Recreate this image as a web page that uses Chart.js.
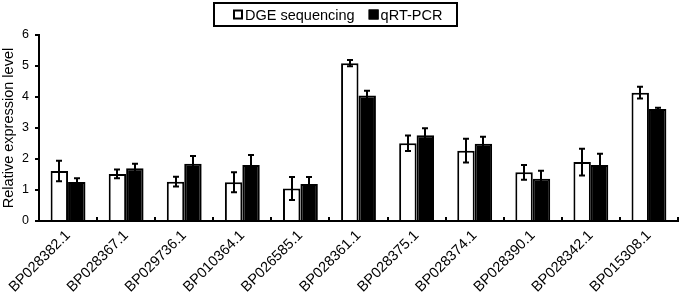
<!DOCTYPE html>
<html>
<head>
<meta charset="utf-8">
<script src="https://cdn.jsdelivr.net/npm/chart.js@4"></script>
<style>
html,body{margin:0;padding:0;background:#fff;}
#wrap{width:680px;height:293px;position:relative;}
</style>
</head>
<body>
<div id="wrap"><canvas id="c" width="680" height="293"></canvas></div>
<script>
const categories = ['BP028382.1','BP028367.1','BP029736.1','BP010364.1','BP026585.1','BP028361.1','BP028375.1','BP028374.1','BP028390.1','BP028342.1','BP015308.1'];
const dgeValues = [1.61,1.52,1.27,1.25,1.05,5.09,2.51,2.27,1.57,1.90,4.14];
const dgeErrors = [0.33,0.14,0.16,0.32,0.37,0.10,0.25,0.38,0.24,0.43,0.19];
const qpcrValues = [1.26,1.70,1.85,1.81,1.19,4.05,2.77,2.49,1.36,1.81,3.61];
const qpcrErrors = [0.12,0.15,0.25,0.32,0.23,0.15,0.22,0.23,0.26,0.36,0.04];
const yTicks = [0,1,2,3,4,5,6];

const FONT = 'Liberation Sans, Arial, sans-serif';

const errorBars = {
  id: 'errorBars',
  afterDatasetsDraw(chart) {
    const ctx = chart.ctx;
    const ys = chart.scales.y;
    ctx.save();
    ctx.strokeStyle = '#000';
    ctx.lineWidth = 2;
    chart.data.datasets.forEach((ds, di) => {
      const meta = chart.getDatasetMeta(di);
      meta.data.forEach((bar, i) => {
        const v = ds.data[i], e = ds.errors[i];
        const top = ys.getPixelForValue(v + e);
        const bot = ys.getPixelForValue(v - e);
        const x = Math.round(bar.x);
        ctx.beginPath();
        ctx.moveTo(x, top); ctx.lineTo(x, bot);
        ctx.moveTo(x - 3, top); ctx.lineTo(x + 3, top);
        ctx.moveTo(x - 3, bot); ctx.lineTo(x + 3, bot);
        ctx.stroke();
      });
    });
    ctx.restore();
  }
};

const axisMarks = {
  id: 'axisMarks',
  afterDraw(chart) {
    const ctx = chart.ctx;
    const xs = chart.scales.x;
    const area = chart.chartArea;
    ctx.save();
    ctx.strokeStyle = '#000';
    ctx.lineWidth = 2;
    const n = chart.data.labels.length;
    for (let i = 0; i < n; i++) {
      let bx;
      if (i < n - 1) bx = (xs.getPixelForValue(i) + xs.getPixelForValue(i + 1)) / 2;
      else bx = area.right;
      bx = Math.round(bx);
      ctx.beginPath();
      ctx.moveTo(bx, area.bottom);
      ctx.lineTo(bx, area.bottom - 4);
      ctx.stroke();
    }
    // legend
    const items = chart.data.datasets.map(d => ({label: d.label, fill: d.backgroundColor}));
    ctx.font = '14.5px ' + FONT;
    const box = 10, gapBox = 2, gapItem = 14;
    const widths = items.map(it => box + gapBox + ctx.measureText(it.label).width);
    const total = widths.reduce((a, b) => a + b, 0) + gapItem * (items.length - 1);
    const cx = 338, cy = 14.5;
    let x = Math.round(cx - total / 2);
    ctx.lineWidth = 2;
    ctx.strokeRect(214, 3, 243, 23);
    ctx.textBaseline = 'middle';
    items.forEach((it, k) => {
      ctx.fillStyle = it.fill;
      ctx.fillRect(x, cy - box / 2, box, box);
      ctx.strokeStyle = '#000';
      ctx.lineWidth = 2;
      ctx.strokeRect(x + 1, cy - box / 2 + 1, box - 2, box - 2);
      ctx.fillStyle = '#000';
      ctx.fillText(it.label, x + box + gapBox, cy + 1);
      x += widths[k] + gapItem;
    });
    ctx.restore();
  }
};

new Chart(document.getElementById('c'), {
  type: 'bar',
  data: {
    labels: categories,
    datasets: [
      {label: 'DGE sequencing', data: dgeValues, errors: dgeErrors, backgroundColor: '#ffffff', borderColor: '#000000', borderWidth: 2},
      {label: 'qRT-PCR', data: qpcrValues, errors: qpcrErrors, backgroundColor: '#000000', borderColor: '#000000', borderWidth: 2}
    ]
  },
  options: {
    responsive: false,
    animation: false,
    devicePixelRatio: 1,
    layout: {padding: {top: 35, right: 2, left: 0, bottom: 0}},
    datasets: {bar: {categoryPercentage: 0.6, barPercentage: 1.0}},
    plugins: {legend: {display: false}, tooltip: {enabled: false}},
    scales: {
      x: {
        afterFit: s => { s.height = 72; },
        grid: {display: true, drawOnChartArea: false, drawTicks: false, color: 'rgba(0,0,0,0)'},
        border: {display: true, color: '#000', width: 2},
        ticks: {color: '#000', font: {family: FONT, size: 14.5}, minRotation: 45, maxRotation: 45, padding: 6, autoSkip: false}
      },
      y: {
        min: 0, max: 6,
        afterFit: s => { s.width = 39; },
        afterBuildTicks: s => { s.ticks = yTicks.map(v => ({value: v})); },
        grid: {drawOnChartArea: false, drawTicks: true, tickLength: 4, color: '#000', lineWidth: 2},
        border: {display: true, color: '#000', width: 2},
        ticks: {color: '#000', font: {family: FONT, size: 12.5}, padding: 6},
        title: {display: true, text: 'Relative expression level', color: '#000', font: {family: FONT, size: 14.5}, padding: {top: 0, bottom: 0}}
      }
    }
  },
  plugins: [errorBars, axisMarks]
});
</script>
</body>
</html>
